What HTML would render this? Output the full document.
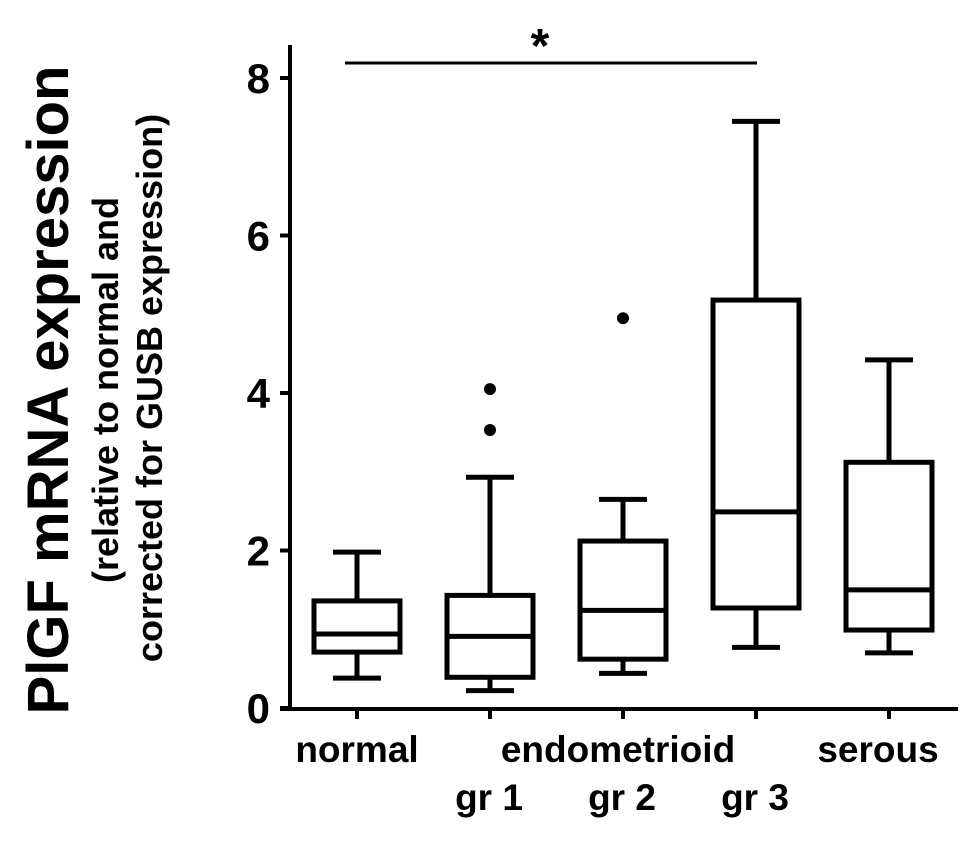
<!DOCTYPE html>
<html><head><meta charset="utf-8"><style>
body{margin:0;background:#fff;}
svg text{font-family:"Liberation Sans",Arial,sans-serif;font-weight:bold;fill:#000;}
</style></head><body>
<svg width="980" height="850" viewBox="0 0 980 850" id="chart">
<text x="68" y="390" font-size="58" text-anchor="middle" transform="rotate(-90 68 390)">PlGF mRNA expression</text>
<text x="118" y="390" font-size="36" text-anchor="middle" transform="rotate(-90 118 390)">(relative to normal and</text>
<text x="162" y="388" font-size="36" text-anchor="middle" transform="rotate(-90 162 388)">corrected for GUSB expression)</text>
<g id="axes"></g>
<g id="boxes"></g>
<line x1="345" y1="63" x2="757" y2="63" stroke="#000" stroke-width="3"/>
<text x="540" y="62" font-size="48" text-anchor="middle">*</text>
<text x="357" y="762" font-size="37" text-anchor="middle">normal</text>
<text x="618" y="762" font-size="37" text-anchor="middle">endometrioid</text>
<text x="489" y="810" font-size="37" text-anchor="middle">gr 1</text>
<text x="622" y="810" font-size="37" text-anchor="middle">gr 2</text>
<text x="755" y="810" font-size="37" text-anchor="middle">gr 3</text>
<text x="878" y="762" font-size="37" text-anchor="middle">serous</text>
</svg>
<script>
const categories=["normal","gr1","gr2","gr3","serous"];
const whiskerLow=[0.38,0.22,0.44,0.77,0.70];
const q1=[0.71,0.39,0.62,1.27,0.99];
const medians=[0.94,0.91,1.24,2.49,1.50];
const q3=[1.36,1.43,2.12,5.18,3.12];
const whiskerHigh=[1.98,2.93,2.65,7.45,4.42];
const outliers=[[],[3.53,4.05],[4.95],[],[]];
const yTicks=[0,2,4,6,8];
const NS="http://www.w3.org/2000/svg";
const y=v=>708-v*78.75;
const x=i=>357+i*133;
function mk(t,a,p){const e=document.createElementNS(NS,t);for(const k in a)e.setAttribute(k,a[k]);p.appendChild(e);return e;}
const ax=document.getElementById('axes'),bx=document.getElementById('boxes');
let l=mk('line',{x1:290,y1:45,x2:290,y2:711,stroke:'#000','stroke-width':4},ax);


l=mk('line',{x1:280,y1:709,x2:958,y2:709,stroke:'#000','stroke-width':4},ax);


yTicks.forEach(v=>{
 const t=mk('line',{x1:280,y1:y(v),x2:290,y2:y(v),stroke:'#000','stroke-width':4},ax);
 
 
 const tx=mk('text',{x:270,y:y(v)+15,'font-size':42,'text-anchor':'end'},ax);
 tx.textContent=v;
 
 
});
categories.forEach((c,i)=>{
 const cx=x(i),w=43,s={stroke:'#000','stroke-width':5,fill:'none'};
 const t=mk('line',{x1:cx,y1:709,x2:cx,y2:719,stroke:'#000','stroke-width':4},ax);
 
 
 const g=mk('g',{},bx);
 
 
 mk('line',Object.assign({x1:cx,y1:y(whiskerLow[i]),x2:cx,y2:y(q1[i])},s),g);
 mk('line',Object.assign({x1:cx,y1:y(q3[i]),x2:cx,y2:y(whiskerHigh[i])},s),g);
 mk('line',Object.assign({x1:cx-24,y1:y(whiskerLow[i]),x2:cx+24,y2:y(whiskerLow[i])},s),g);
 mk('line',Object.assign({x1:cx-24,y1:y(whiskerHigh[i]),x2:cx+24,y2:y(whiskerHigh[i])},s),g);
 mk('rect',Object.assign({x:cx-w,y:y(q3[i]),width:2*w,height:y(q1[i])-y(q3[i])},s),g);
 mk('line',Object.assign({x1:cx-w,y1:y(medians[i]),x2:cx+w,y2:y(medians[i])},s),g);
 outliers[i].forEach(v=>{
  const d=mk('circle',{cx:cx,cy:y(v),r:6,fill:'#000'},g);
  
  
 });
});
</script>
</body></html>
